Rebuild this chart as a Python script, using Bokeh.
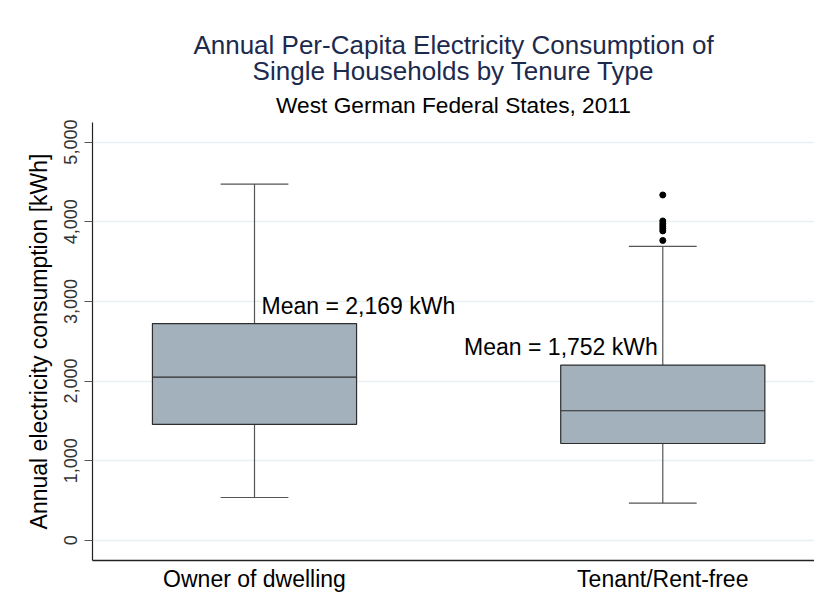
from bokeh.plotting import figure
from bokeh.models import Range1d, FixedTicker, ColumnDataSource, Title
from bokeh.core.properties import value
from bokeh.embed import file_html
from bokeh.resources import INLINE

categories = ["Owner of dwelling", "Tenant/Rent-free"]
q1 = [1456, 1216]
median = [2048, 1627]
q3 = [2722, 2201]
lower_whisker = [538, 467]
upper_whisker = [4473, 3690]
means = [2169, 1752]
outliers_tenant = [4336, 4010, 3975, 3945, 3915, 3885, 3765]
y_ticks = [0, 1000, 2000, 3000, 4000, 5000]

FONT = "Liberation Sans"
xs = list(range(len(categories)))
half = 0.25
cap = 0.083

src = ColumnDataSource(dict(
    x=xs, q1=q1, med=median, q3=q3, lo=lower_whisker, hi=upper_whisker,
    left=[x - half for x in xs], right=[x + half for x in xs],
    cl=[x - cap for x in xs], cr=[x + cap for x in xs],
))

p = figure(width=814, height=594, output_backend="svg", toolbar_location=None,
           x_range=Range1d(-0.3968, 1.3716), y_range=Range1d(-253, 5246),
           min_border_left=92, min_border_right=0, min_border_top=122,
           min_border_bottom=31)
p.outline_line_color = None
p.background_fill_color = "white"

# titles
p.title.text = ""
t1 = Title(text="Annual Per-Capita Electricity Consumption of", align="center",
           text_font=FONT, text_font_size="26px", text_font_style="normal",
           text_color="#1c2a4e", standoff=-13)
t2 = Title(text="Single Households by Tenure Type", align="center",
           text_font=FONT, text_font_size="26px", text_font_style="normal",
           text_color="#1c2a4e", standoff=0)
t_sub = Title(text="West German Federal States, 2011", align="center",
              text_font=FONT, text_font_size="22.7px", text_font_style="normal",
              text_color="#000000", standoff=9)
p.above = [t_sub, t2, t1]

# whiskers
p.segment(x0="x", y0="q3", x1="x", y1="hi", source=src, line_color="#555555", line_width=1.2)
p.segment(x0="x", y0="q1", x1="x", y1="lo", source=src, line_color="#555555", line_width=1.2)
p.segment(x0="cl", y0="hi", x1="cr", y1="hi", source=src, line_color="#555555", line_width=1.2)
p.segment(x0="cl", y0="lo", x1="cr", y1="lo", source=src, line_color="#555555", line_width=1.2)

# boxes
p.quad(left="left", right="right", bottom="q1", top="q3", source=src,
       fill_color="#a2b1bc", line_color="#2e2e2e", line_width=1.2)
p.segment(x0="left", y0="med", x1="right", y1="med", source=src,
          line_color="#2e2e2e", line_width=1.2)

# outliers
p.scatter(x=[xs[1]] * len(outliers_tenant), y=outliers_tenant, size=6,
          fill_color="black", line_color="black")

# mean labels
labels = [f"Mean = {m:,} kWh" for m in means]
p.text(x=[xs[0]], y=[q3[0]], text=[labels[0]], x_offset=7, y_offset=-18,
       text_align="left", text_baseline="alphabetic", text_font=value(FONT),
       text_font_size="23px", text_color="black")
p.text(x=[xs[1]], y=[q3[1]], text=[labels[1]], x_offset=-5, y_offset=-18,
       text_align="right", text_baseline="alphabetic", text_font=value(FONT),
       text_font_size="23px", text_color="black")

# axes
p.xaxis.ticker = FixedTicker(ticks=xs)
p.xaxis.major_label_overrides = {x: c for x, c in zip(xs, categories)}
p.xaxis.major_tick_line_color = None
p.xaxis.minor_tick_line_color = None
p.xaxis.major_tick_out = 0
p.xaxis.major_tick_in = 0
p.xaxis.major_label_text_font = FONT
p.xaxis.major_label_text_font_size = "23px"
p.xaxis.major_label_text_color = "black"
p.xaxis.major_label_standoff = 5
p.xaxis.axis_line_color = "#222222"
p.xaxis.axis_line_width = 1.5

p.yaxis.ticker = FixedTicker(ticks=y_ticks)
p.yaxis.major_label_overrides = {t: f"{t:,}" for t in y_ticks}
p.yaxis.major_label_orientation = "vertical"
p.yaxis.major_tick_out = 8
p.yaxis.major_tick_in = 0
p.yaxis.minor_tick_line_color = None
p.yaxis.major_tick_line_color = "#555555"
p.yaxis.major_label_text_font = FONT
p.yaxis.major_label_text_font_size = "18px"
p.yaxis.major_label_text_color = "#333333"
p.yaxis.major_label_standoff = 7
p.yaxis.axis_label = "Annual electricity consumption [kWh]"
p.yaxis.axis_label_text_font = FONT
p.yaxis.axis_label_text_font_size = "23px"
p.yaxis.axis_label_text_font_style = "normal"
p.yaxis.axis_label_text_color = "black"
p.yaxis.axis_label_standoff = 10
p.yaxis.axis_line_color = "#222222"
p.yaxis.axis_line_width = 1.2

p.xgrid.grid_line_color = None
p.ygrid.grid_line_color = "#e8f0f2"
p.ygrid.grid_line_width = 1.5

open("out.html", "w").write(file_html(p, INLINE))
